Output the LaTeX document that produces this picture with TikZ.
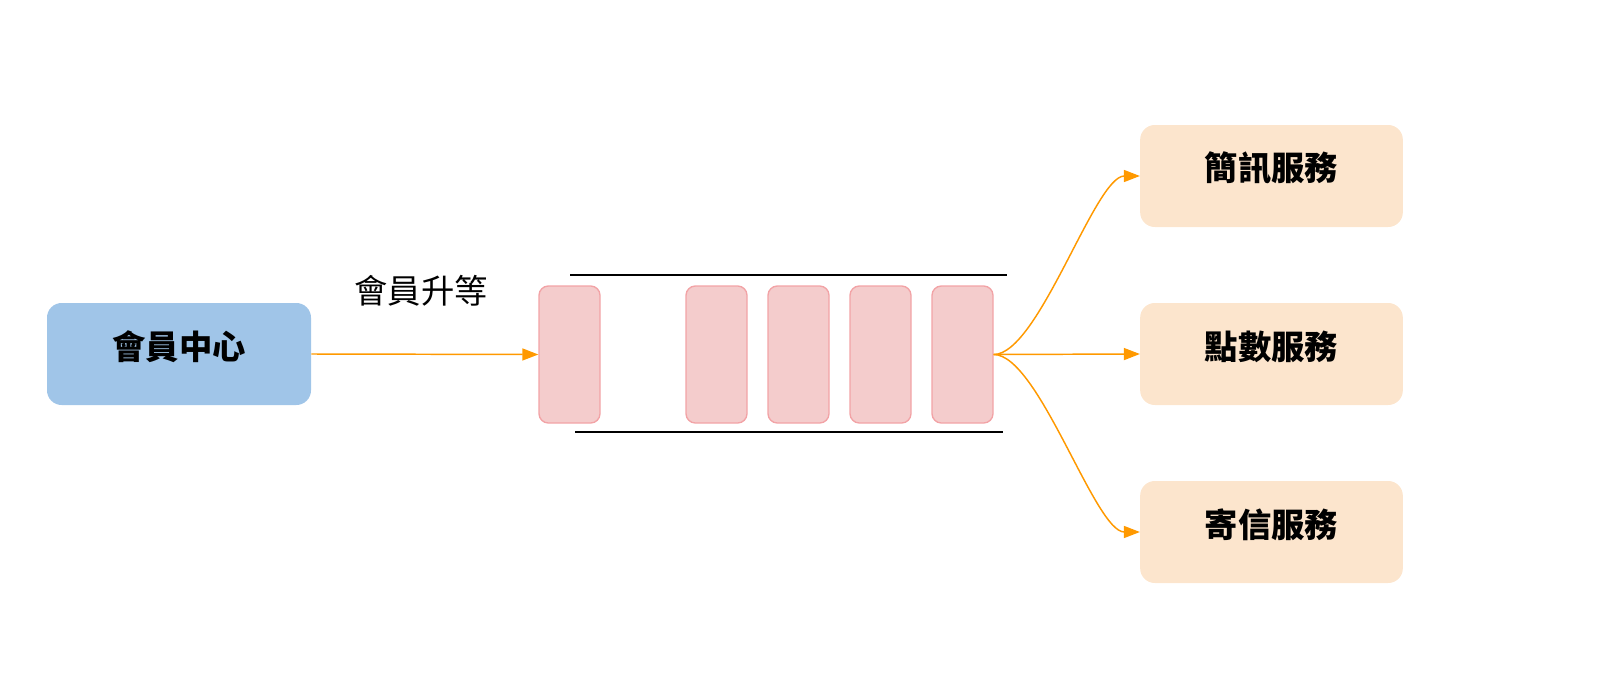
\documentclass[tikz,border=0pt]{standalone}
\usepackage{fontspec}
\setmainfont{Noto Sans CJK TC}
\usetikzlibrary{arrows.meta}
\definecolor{memberblue}{HTML}{A0C5E8}
\definecolor{queuepink}{HTML}{F4CCCC}
\definecolor{queueedge}{HTML}{F2A3A6}
\definecolor{servicetan}{HTML}{FCE5CD}
\definecolor{floworange}{HTML}{FF9900}

\begin{document}
\begin{tikzpicture}[x=0.75pt,y=-0.75pt,
	memberbox/.style={fill=memberblue, rounded corners=11pt, minimum width=198pt, minimum height=76.5pt},
	servicebox/.style={fill=servicetan, rounded corners=11pt, minimum width=197pt, minimum height=76.5pt},
	boxtext/.style={font=\fontsize{25}{30}\selectfont\bfseries, text=black},
	msgbox/.style={fill=queuepink, draw=queueedge, line width=1pt, rounded corners=7pt,
		minimum width=45.75pt, minimum height=102.75pt},
	flow/.style={draw=floworange, line width=1.1pt, -{Triangle[length=12pt,width=9pt]}}]
		%%%%% START %%%%%
		\useasboundingbox (0, 0) rectangle (1600, 678);
		
		\node[memberbox] (center) at (179, 354) {};
		\node[boxtext] (centertext) at (179, 347) {會員中心};
		
		% queue
		\draw[line width=1.1pt] (570, 275) -- (1007, 275);
		\draw[line width=1.1pt] (575, 432) -- (1003, 432);
		\node[msgbox] (q1) at (569.5, 354.5) {};
		\node[msgbox] (q2) at (716.5, 354.5) {};
		\node[msgbox] (q3) at (798.5, 354.5) {};
		\node[msgbox] (q4) at (880.5, 354.5) {};
		\node[msgbox] (q5) at (962.5, 354.5) {};
		
		\node[font=\fontsize{25}{30}\selectfont] (upgrade) at (421, 291) {會員升等};
		\draw[flow] (center.east) -- (q1.west);
		
		% services
		\node[servicebox] (sms) at (1271.5, 176) {};
		\node[servicebox] (points) at (1271.5, 354) {};
		\node[servicebox] (mail) at (1271.5, 532) {};
		\node[boxtext] (smstext) at (1271.5, 168) {簡訊服務};
		\node[boxtext] (pointstext) at (1271.5, 347) {點數服務};
		\node[boxtext] (mailtext) at (1271.5, 525) {寄信服務};
		
		\draw[flow] (q5.east) .. controls +(45, 0) and +(-45, 0) .. (sms.west);
		\draw[flow] (q5.east) -- (points.west);
		\draw[flow] (q5.east) .. controls +(45, 0) and +(-45, 0) .. (mail.west);
		%%%%% END %%%%%
\end{tikzpicture}
\end{document}
